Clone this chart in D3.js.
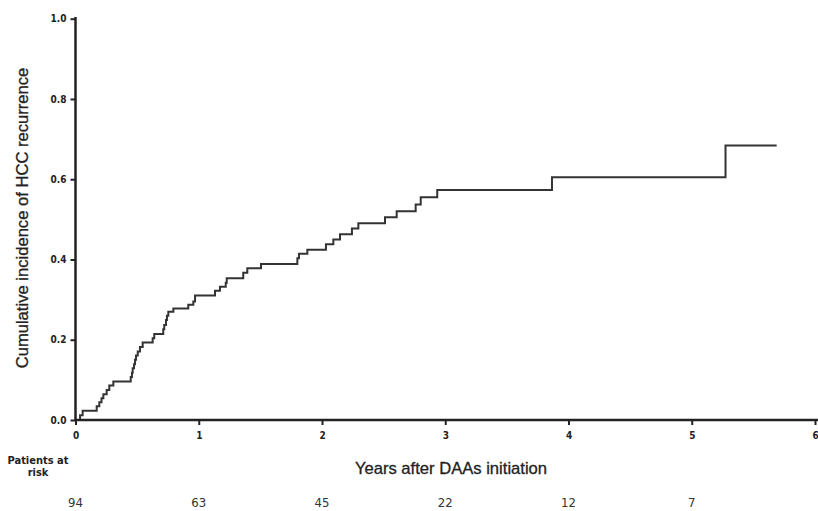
<!DOCTYPE html>
<html><head><meta charset="utf-8">
<script src="https://cdn.jsdelivr.net/npm/d3@7"></script>
<style>body{margin:0;background:#fff}
.nar{font-family:'Liberation Sans Narrow','Arial Narrow','DejaVu Sans Condensed','DejaVu Sans',sans-serif;font-stretch:condensed}</style>
</head><body>
<svg id="c" width="818" height="511"></svg>
<script>
const eventTimes = [0.037,0.058,0.172,0.193,0.211,0.226,0.253,0.274,0.307,
 0.448,0.458,0.464,0.475,0.483,0.491,0.505,0.523,0.545,
 0.626,0.639,
 0.712,0.720,0.734,0.742,0.753,0.794,
 0.915,0.956,0.970,
 1.132,1.172,1.219,1.227,
 1.361,1.394,1.505,1.800,1.813,1.881,
 2.032,2.092,2.146,2.243,2.295,2.511,2.606,2.760,2.801,2.935,
 3.866,5.274];
const cumIncidence = [0.012,0.023,0.034,0.044,0.054,0.064,0.075,0.086,0.096,
 0.107,0.118,0.129,0.139,0.150,0.161,0.171,0.182,0.193,
 0.204,0.214,
 0.226,0.237,0.249,0.260,0.270,0.278,
 0.287,0.295,0.310,
 0.322,0.332,0.342,0.353,
 0.367,0.378,0.389,0.403,0.414,0.424,
 0.438,0.450,0.463,0.477,0.490,0.505,0.520,0.537,0.555,0.573,
 0.605,0.684];
const lastFollowUp = 5.689;
const xTicks = [0,1,2,3,4,5,6];
const yTicks = [0,0.2,0.4,0.6,0.8,1.0];
const atRisk = [94,63,45,22,12,7];
const atRiskTimes = [0,1,2,3,4,5];

const svg = d3.select("#c");
const x = d3.scaleLinear().domain([0,6]).range([75.5,815]);
const y = d3.scaleLinear().domain([0,1]).range([420,18.7]);

// curve
const pts = [[0,0]];
eventTimes.forEach((t,i)=>pts.push([t,cumIncidence[i]]));
pts.push([lastFollowUp, cumIncidence[cumIncidence.length-1]]);
const line = d3.line().x(d=>x(d[0])).y(d=>y(d[1])).curve(d3.curveStepAfter);
svg.append("path").attr("d",line(pts)).attr("fill","none")
  .attr("stroke","#333").attr("stroke-width",2);

// axes
const xa = svg.append("g").attr("transform","translate(0,420)")
  .call(d3.axisBottom(x).tickValues(xTicks).tickFormat(d3.format("d")).tickSize(5).tickSizeOuter(0));
const ya = svg.append("g").attr("transform","translate(75.5,0)")
  .call(d3.axisLeft(y).tickValues(yTicks).tickFormat(d3.format(".1f")).tickSize(5).tickSizeOuter(0));
[xa,ya].forEach(g=>{
  g.attr("font-family",null);
  g.select(".domain").attr("stroke","#222").attr("stroke-width",2.5);
  g.selectAll(".tick line").attr("stroke","#222").attr("stroke-width",2);
  g.selectAll(".tick text").attr("class","nar").attr("font-weight","bold")
   .attr("font-size",10).attr("fill","#222");
});
xa.select(".domain").attr("d","M75.5,0H818");
ya.select(".domain").attr("d","M0,17V420");
xa.selectAll(".tick text").attr("dy","1.1em").attr("y",8);
ya.selectAll(".tick text").attr("x",-9);

// titles
svg.append("text").attr("transform","translate(28,218) rotate(-90)")
  .attr("text-anchor","middle").attr("font-family","'Liberation Sans',Arial,sans-serif")
  .attr("font-size",16.6).attr("fill","#222").attr("stroke","#222").attr("stroke-width",0.3)
  .text("Cumulative incidence of HCC recurrence");
svg.append("text").attr("x",451).attr("y",474).attr("text-anchor","middle")
  .attr("font-family","'Liberation Sans',Arial,sans-serif")
  .attr("font-size",16.6).attr("fill","#222").attr("stroke","#222").attr("stroke-width",0.3)
  .text("Years after DAAs initiation");

svg.append("text").attr("class","nar").attr("x",38).attr("y",464).attr("text-anchor","middle")
  .attr("font-size",11).attr("font-weight","bold").attr("fill","#222").text("Patients at");
svg.append("text").attr("class","nar").attr("x",38).attr("y",476).attr("text-anchor","middle")
  .attr("font-size",11).attr("font-weight","bold").attr("fill","#222").text("risk");

svg.append("g").selectAll("text").data(atRisk).join("text").attr("class","nar")
  .attr("x",(d,i)=>x(atRiskTimes[i])).attr("y",507).attr("text-anchor","middle")
  .attr("font-size",13).attr("fill","#333").text(d=>d);
</script>
</body></html>
